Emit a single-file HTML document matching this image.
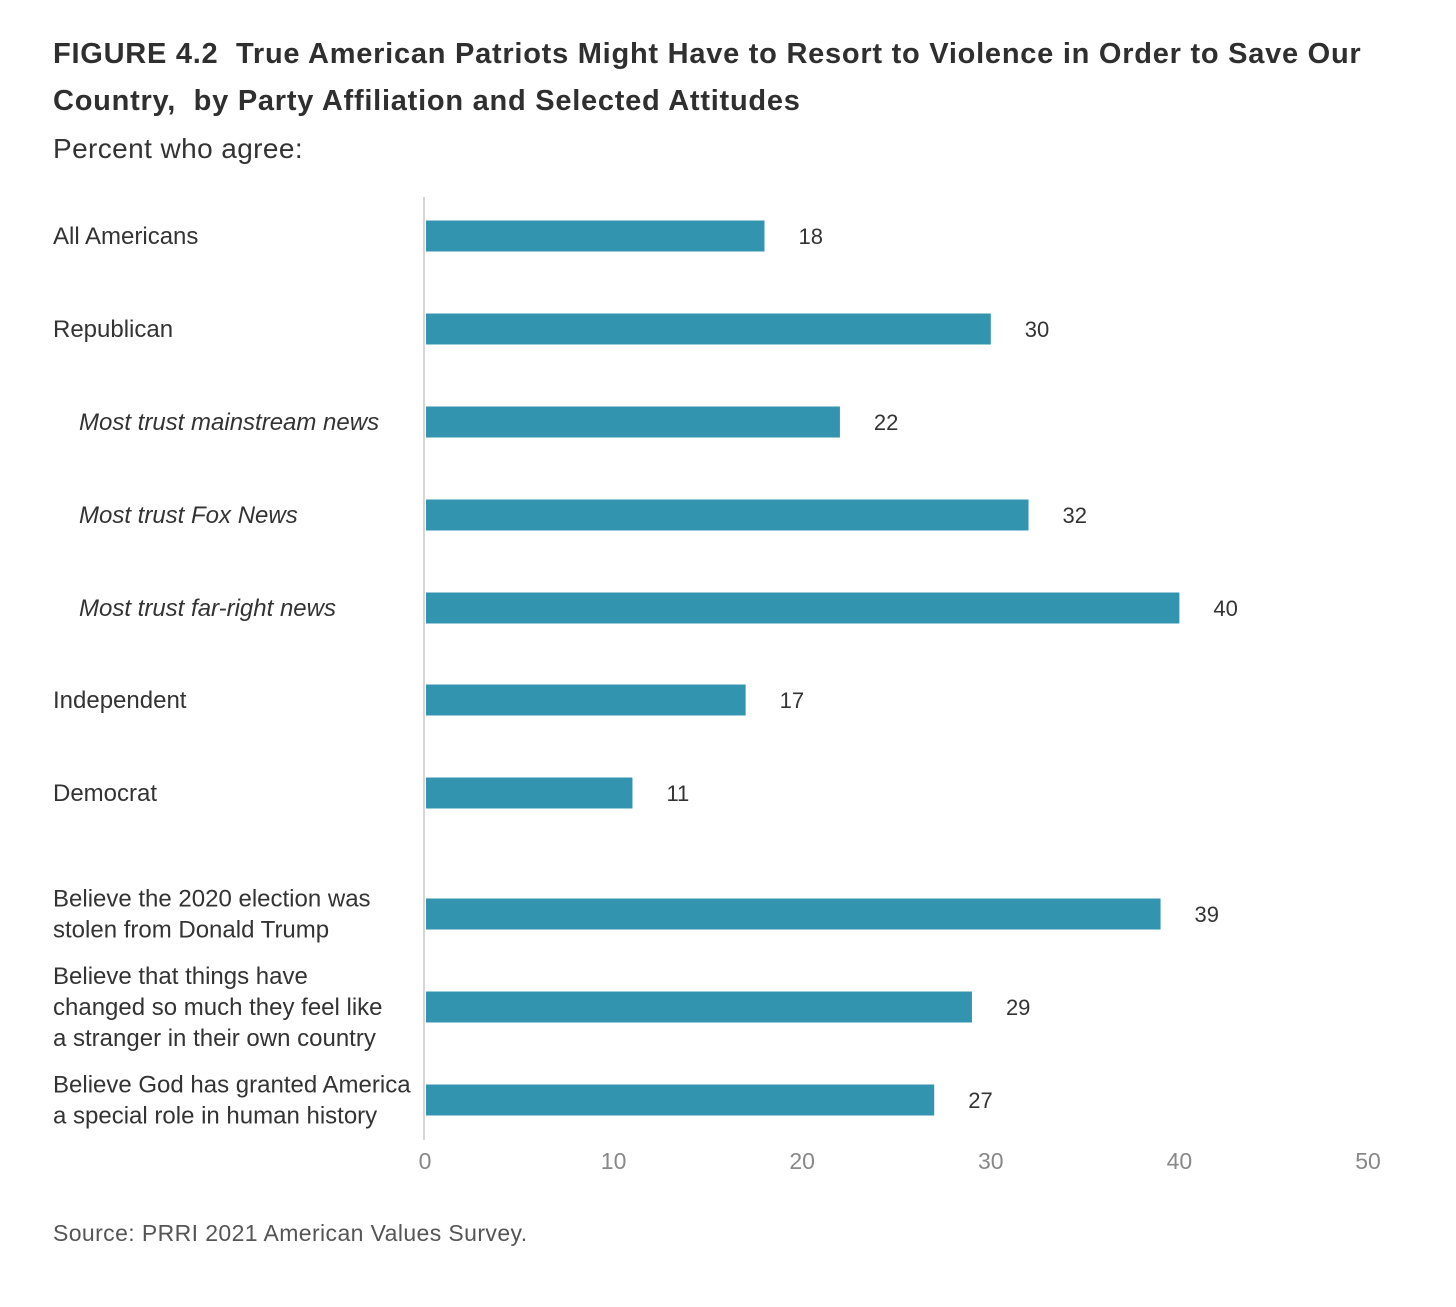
<!DOCTYPE html>
<html><head><meta charset="utf-8"><style>
body{margin:0;background:#fff;width:1456px;height:1307px;overflow:hidden;font-family:"Liberation Sans",sans-serif;color:#333;}
.t{position:absolute;left:53px;font-weight:bold;font-size:29px;letter-spacing:0.75px;color:#2f2f2f;white-space:nowrap;}
</style></head><body>
<div class="t" style="top:38px">FIGURE 4.2&nbsp; True American Patriots Might Have to Resort to Violence in Order to Save Our</div>
<div class="t" style="top:85px">Country,&nbsp; by Party Affiliation and Selected Attitudes</div>
<div style="position:absolute;left:53px;top:133px;font-size:28px;letter-spacing:0.4px;color:#333">Percent who agree:</div>
<svg id="c" width="1456" height="1307" style="position:absolute;left:0;top:0"></svg>
<div style="position:absolute;left:53px;top:1220px;font-size:23px;letter-spacing:0.4px;color:#555">Source: PRRI 2021 American Values Survey.</div>
<script>
const categories=[["All Americans"],["Republican"],["Most trust mainstream news"],["Most trust Fox News"],["Most trust far-right news"],["Independent"],["Democrat"],["Believe the 2020 election was","stolen from Donald Trump"],["Believe that things have","changed so much they feel like","a stranger in their own country"],["Believe God has granted America","a special role in human history"]];
const italicFlags=[false,false,true,true,true,false,false,false,false,false];
const values=[18,30,22,32,40,17,11,39,29,27];
const ticks=[0,10,20,30,40,50];
const rowCenters=[236,329,422,515,608,700,793,914,1007,1100];
const NS="http://www.w3.org/2000/svg";
const svg=document.getElementById('c');
const x0=425,x1=1368;
const xs=v=>x0+(v/50)*(x1-x0);
function mk(t,a){const e=document.createElementNS(NS,t);for(const k in a)e.setAttribute(k,a[k]);svg.appendChild(e);return e;}
const ax=mk('line',{x1:424,x2:424,y1:197,y2:1140,stroke:'#d6d6d6','stroke-width':2});


ticks.forEach(t=>{const e=mk('text',{x:xs(t),y:1169,'text-anchor':'middle','font-size':23,fill:'#888','font-family':'Liberation Sans, sans-serif'});e.textContent=t;

});
values.forEach((v,i)=>{const cy=rowCenters[i];
const r=mk('rect',{x:x0+1,y:cy-15.5,width:xs(v)-x0-1,height:31,fill:'#3394b0'});


const l=mk('text',{x:xs(v)+34,y:cy+8,'font-size':22,fill:'#333','font-family':'Liberation Sans, sans-serif'});l.textContent=v;


const lines=categories[i];const n=lines.length;
lines.forEach((s,j)=>{const tx=mk('text',{x:italicFlags[i]?79:53,y:cy+8+(j-(n-1)/2)*31,'font-size':24,fill:'#333','font-family':'Liberation Sans, sans-serif','font-style':italicFlags[i]?'italic':'normal'});tx.textContent=s;

});
});
</script>
</body></html>
